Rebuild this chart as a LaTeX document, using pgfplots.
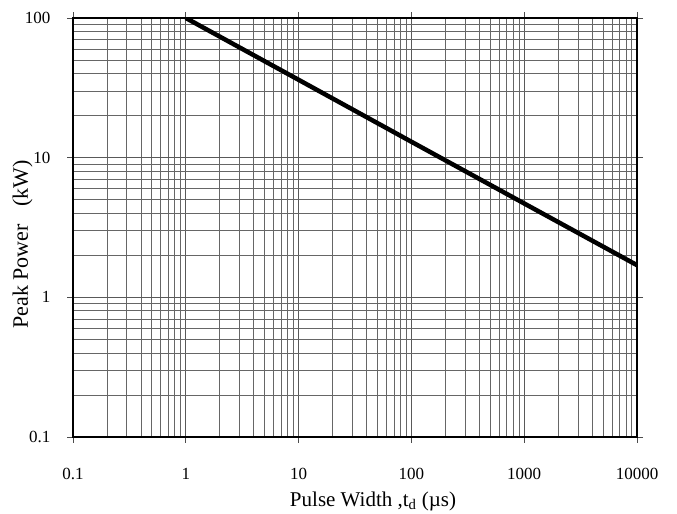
\documentclass[border=0pt]{standalone}
\usepackage{fontspec}
\setmainfont{Liberation Serif}
\usepackage{pgfplots}
\pgfplotsset{compat=1.18}

\begin{document}
\begin{tikzpicture}
\begin{axis}[
    scale only axis,
    width=564pt, height=419pt,
    xmode=log, ymode=log,
    xmin=0.1, xmax=10000,
    ymin=0.1, ymax=100,
    xtick={0.1,1,10,100,1000,10000},
    xticklabels={0.1,1,10,100,1000,10000},
    ytick={0.1,1,10,100},
    yticklabels={0.1,1,10,100},
    /pgf/number format/assume math mode=true,
    grid=both,
    major grid style={black!65, line width=0.9pt},
    minor grid style={black!60, line width=0.8pt},
    tick align=outside,
    major tick length=6pt,
    minor tick length=0pt,
    tick style={black!70, line width=0.9pt},
    axis line style={black, line width=1.2pt},
    ticklabel style={font=\fontsize{17}{19}\selectfont},
    xticklabel style={yshift=-22pt},
    yticklabel style={xshift=-13pt},
    xlabel={Pulse Width ,t\textsubscript{d} (µs)},
    ylabel={Peak Power\hspace{0.8em}(kW)},
    label style={font=\fontsize{21}{23}\selectfont},
    ylabel style={font=\fontsize{22}{24}\selectfont},
    xlabel style={at={(0.532,0)}, anchor=north, yshift=-51pt},
    ylabel style={at={(0,0.46)}, anchor=south, yshift=37pt},
]
\coordinate (sw) at (rel axis cs:0,0);
\addplot[black, line width=4.5pt] coordinates {
    (1,100) (10,36.1) (100,13.0) (1000,4.70) (10000,1.7)
};
\end{axis}
\path (sw) ++(-73pt,-74pt) rectangle ++(677pt,511pt);
\end{tikzpicture}
\end{document}
